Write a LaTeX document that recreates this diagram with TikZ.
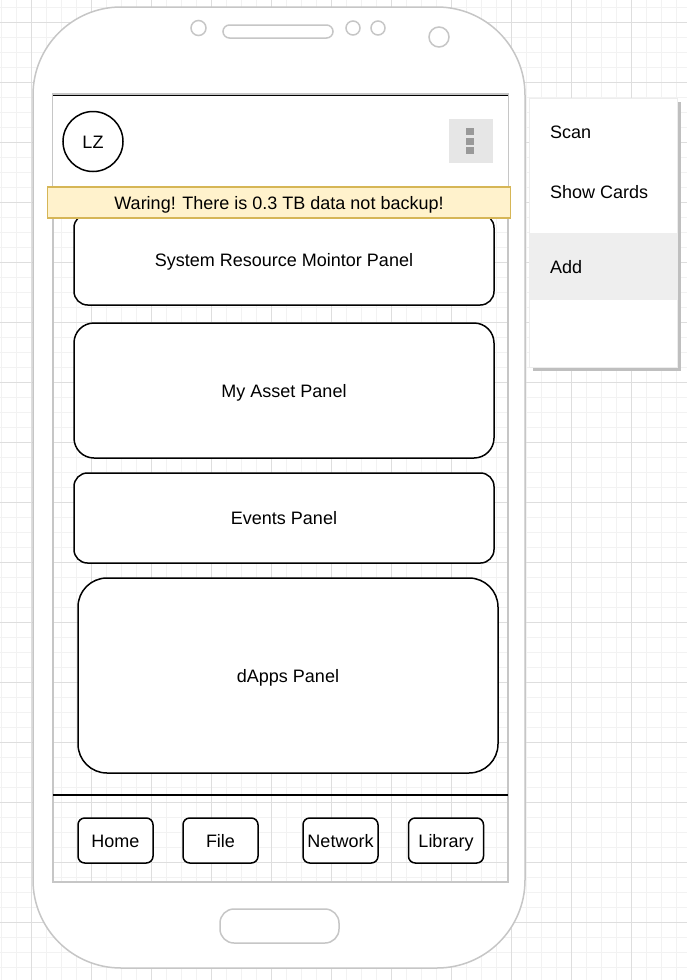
\documentclass[tikz,border=0pt]{standalone}
\usepackage{fontspec}
\setmainfont{Liberation Sans}
\definecolor{gridmajor}{HTML}{DEDEDE}
\definecolor{gridminor}{HTML}{F2F2F2}
\definecolor{phonegray}{HTML}{C6C6C6}
\definecolor{warnfill}{HTML}{FFF2CC}
\definecolor{warnline}{HTML}{D6B656}
\definecolor{menubtn}{HTML}{E6E6E6}
\definecolor{menuhl}{HTML}{EEEEEE}
\definecolor{dotgray}{HTML}{999999}

\begin{document}
\begin{tikzpicture}[x=1pt, y=-1pt,
            every node/.style={inner sep=0pt, font=\fontsize{18}{22}\selectfont, text height=13pt, text depth=0pt},
            panel/.style={draw=black, line width=1.5pt, fill=white, rounded corners=#1},
            tab_style/.style={panel=6.75pt, minimum width=75pt, minimum height=45pt},
            phone_line/.style={draw=phonegray, line width=1.5pt}]
            \tikzset{minor line/.style={draw=gridminor, line width=1pt}}
            \tikzset{major line/.style={draw=gridmajor, line width=1pt}}
            \useasboundingbox (0,0) rectangle (687,980);
            \fill[white] (0,0) rectangle (687,980);
            % background grid
            \foreach \k in {0,...,45} \draw[minor line] (1.5+15*\k,0) -- (1.5+15*\k,980);
            \foreach \k in {0,...,65} \draw[minor line] (0,7+15*\k) -- (687,7+15*\k);
            \foreach \k in {0,...,10} \draw[major line] (31.5+60*\k,0) -- (31.5+60*\k,980);
            \foreach \k in {0,...,16} \draw[major line] (0,22+60*\k) -- (687,22+60*\k);
            % phone body
            \fill[white, even odd rule] (33,7) [rounded corners=88pt] rectangle (525,968) [sharp corners] (53,94) rectangle (508,882);
            \draw[phone_line] (33,7) [rounded corners=88pt] rectangle (525,968);
            \draw[phone_line] (53,94) rectangle (508,882);
            \draw[phone_line] (198.5,28) circle[radius=7.5pt];
            \draw[phone_line, rounded corners=6.5pt] (223,25) rectangle (333,38);
            \draw[phone_line] (353,28) circle[radius=7pt];
            \draw[phone_line] (378,28) circle[radius=7pt];
            \draw[phone_line] (439,37) circle[radius=10pt];
            \draw[phone_line, rounded corners=14pt] (220,909) rectangle (339,943);
            % app bar
            \fill[white] (53,95) rectangle (508,187);
            \draw[black, line width=1.5pt] (53,95.5) -- (508,95.5);
            \node[circle, draw=black, line width=1.5pt, minimum size=60pt] (avatar) at (93,141.5) {LZ};
            \node[fill=menubtn, minimum size=44pt] (menu) at (471,141) {};
            \node[fill=dotgray, minimum size=7.3pt, text height=0pt] (d1) at (470,131.4) {};
            \node[fill=dotgray, minimum size=7.3pt, text height=0pt] (d2) at (470,141.2) {};
            \node[fill=dotgray, minimum size=7.3pt, text height=0pt] (d3) at (470,150.8) {};
            % panels
            \node[panel=13.7pt, minimum width=420pt, minimum height=91pt] (sys) at (284,259.5) {System Resource Mointor Panel};
            \node[panel=20pt, minimum width=420pt, minimum height=135pt] (asset) at (284,390.5) {My Asset Panel};
            \node[panel=13.5pt, minimum width=420pt, minimum height=90pt] (events) at (284,518) {Events Panel};
            \node[panel=29pt, minimum width=420pt, minimum height=195pt] (dapps) at (288,675.5) {dApps Panel};
            \node[draw=warnline, line width=1.5pt, fill=warnfill, minimum width=463pt, minimum height=31pt] (warn) at (279,202.5) {Waring! There is 0.3 TB data not backup!};
            % bottom bar
            \draw[black, line width=1.5pt] (53,795) -- (508,795);
            \node[tab_style] (home) at (115.5,840.5) {Home};
            \node[tab_style] (file) at (220.5,840.5) {File};
            \node[tab_style] (net) at (340.5,840.5) {Network};
            \node[tab_style] (lib) at (446,840.5) {Library};
            % popup menu
            \fill[black!25] (533,102) rectangle (681,371);
            \node[draw=black!7, fill=white, minimum width=148pt, minimum height=269pt] (popup) at (603,232.5) {};
            \node[fill=menuhl, minimum width=147pt, minimum height=67pt] (addrow) at (603,266.5) {};
            \node[anchor=west] (scan) at (550,132) {Scan};
            \node[anchor=west] (cards) at (550,192) {Show Cards};
            \node[anchor=west] (add) at (550,266.5) {Add};
        \end{tikzpicture}
\end{document}
